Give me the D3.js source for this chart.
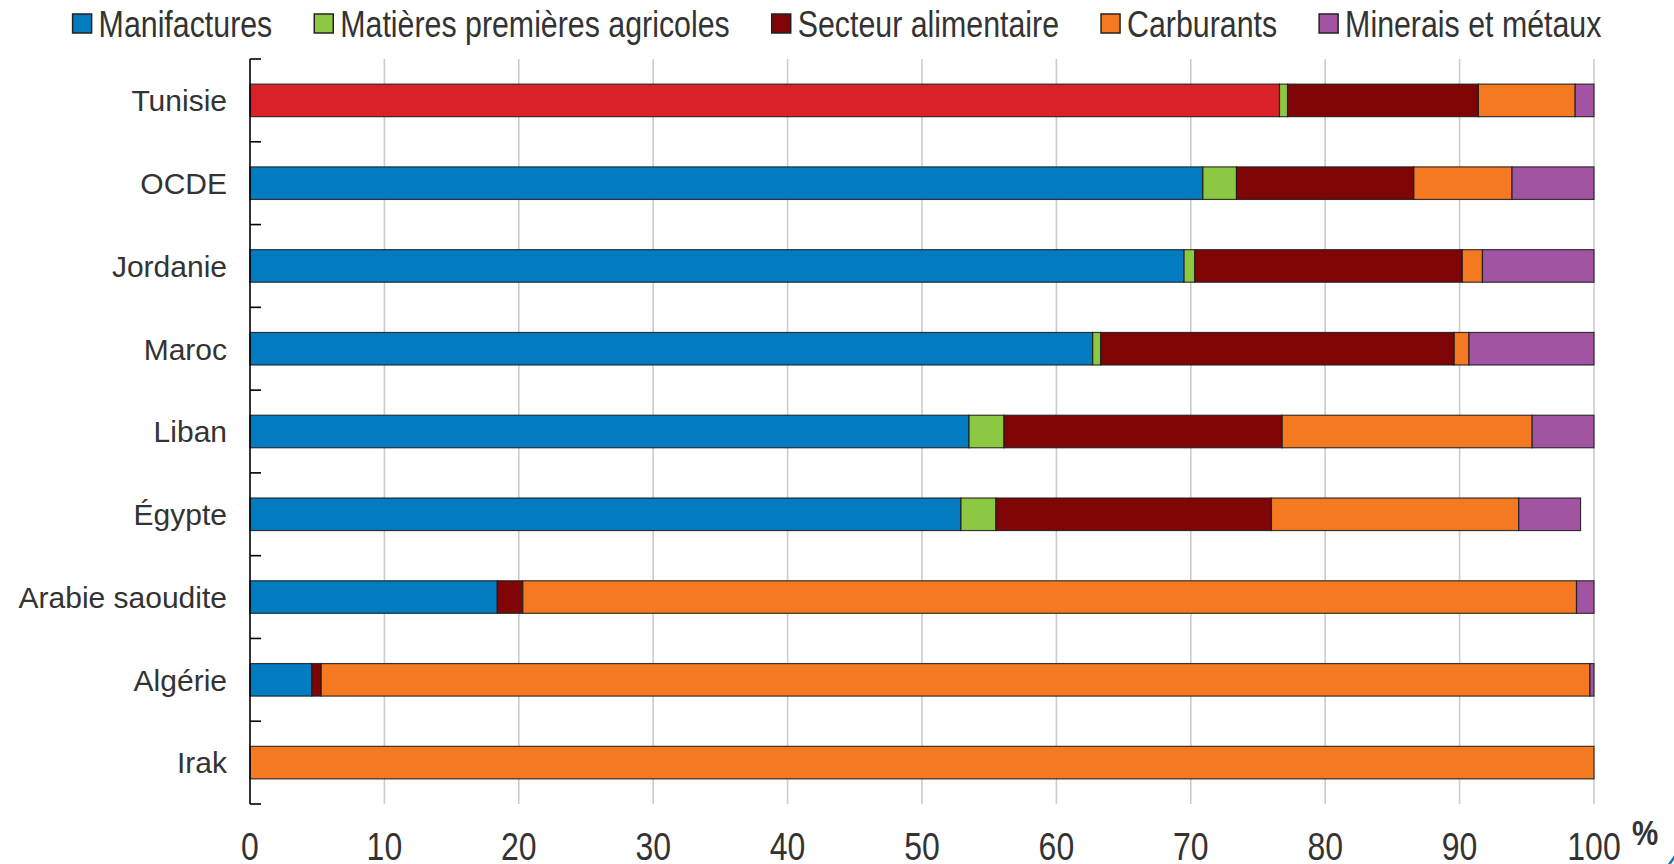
<!DOCTYPE html>
<html>
<head>
<meta charset="utf-8">
<script src="https://cdn.jsdelivr.net/npm/d3@7"></script>
<style>
  body { margin: 0; background: #fff; }
  svg { display: block; }
</style>
</head>
<body>
<div id="chart"></div>
<script>
/* Exportations par catégorie de produits, part du total (%) */

const countries = ["Tunisie", "OCDE", "Jordanie", "Maroc", "Liban", "Égypte", "Arabie saoudite", "Algérie", "Irak"];

const manifactures = [76.6, 70.9, 69.5, 62.7, 53.5, 52.9, 18.4, 4.6, 0];
const agricoles    = [0.6, 2.5, 0.8, 0.6, 2.6, 2.6, 0, 0, 0];
const alimentaire  = [14.2, 13.2, 19.9, 26.3, 20.7, 20.5, 1.9, 0.7, 0];
const carburants   = [7.2, 7.3, 1.5, 1.1, 18.6, 18.4, 78.4, 94.4, 100];
const minerais     = [1.4, 6.1, 8.3, 9.3, 4.6, 4.6, 1.3, 0.3, 0];

const seriesNames = ["Manifactures", "Matières premières agricoles", "Secteur alimentaire", "Carburants", "Minerais et métaux"];
const seriesColors = ["#037bc1", "#8cc841", "#7f0506", "#f47920", "#a154a1"];
const highlight = "Tunisie", highlightColor = "#da2128";

const xTicks = [0, 10, 20, 30, 40, 50, 60, 70, 80, 90, 100];

const width = 1674, height = 864,
    margin = ({top: 59, right: 80, bottom: 60, left: 250});

const font = "'Liberation Sans', Arial, sans-serif",
    narrow = 0.82;            // squeeze to look like Arial Narrow

const data = countries.map((c, i) => ({
    country: c,
    "Manifactures": manifactures[i],
    "Matières premières agricoles": agricoles[i],
    "Secteur alimentaire": alimentaire[i],
    "Carburants": carburants[i],
    "Minerais et métaux": minerais[i]
}));

const stacked = d3.stack().keys(seriesNames)(data);

let svg = d3.select("#chart")
    .append("svg")
    .attr("width", width)
    .attr("height", height);

let x = d3.scaleLinear()
    .domain([0, 100])
    .range([margin.left, width - margin.right]);   // 250 -> 1594

let y = d3.scaleBand()
    .domain(countries)
    .range([margin.top, height - margin.bottom]);   // 59 -> 804

const barH = y.bandwidth() * 0.393,
    barOff = (y.bandwidth() - barH) / 2;

// vertical gridlines
svg.append("g")
    .selectAll("line")
    .data(xTicks.slice(1))
    .join("line")
    .attr("x1", d => x(d)).attr("x2", d => x(d))
    .attr("y1", y.range()[0]).attr("y2", y.range()[1])
    .attr("stroke", "#cccccc")
    .attr("stroke-width", 1.6);

// bars
svg.append("g")
    .selectAll("g")
    .data(stacked)
    .join("g")
    .attr("fill", (s, i) => seriesColors[i])
    .selectAll("rect")
    .data(s => s.map(d => Object.assign(d, {key: s.key})))
    .join("rect")
    .filter(d => d[1] - d[0] > 0)
    .attr("x", d => x(d[0]))
    .attr("width", d => x(d[1]) - x(d[0]))
    .attr("y", d => y(d.data.country) + barOff)
    .attr("height", barH)
    .attr("fill", d => (d.data.country === highlight && d.key === "Manifactures") ? highlightColor : null)
    .attr("stroke", "#1a1a1a")
    .attr("stroke-opacity", 0.85)
    .attr("stroke-width", 1.2);

// y axis: line + inward ticks at band boundaries
const yAxis = svg.append("g");
yAxis.append("line")
    .attr("x1", x(0)).attr("x2", x(0))
    .attr("y1", y.range()[0]).attr("y2", y.range()[1])
    .attr("stroke", "#000").attr("stroke-width", 1.6);
yAxis.selectAll(".tick")
    .data(countries.map(c => y(c)).concat([y.range()[1]]))
    .join("line")
    .attr("x1", x(0)).attr("x2", x(0) + 11)
    .attr("y1", d => d).attr("y2", d => d)
    .attr("stroke", "#000").attr("stroke-width", 1.6);
yAxis.selectAll("text")
    .data(countries)
    .join("text")
    .attr("x", x(0) - 23)
    .attr("y", d => y(d) + y.bandwidth() / 2)
    .attr("dy", "0.36em")
    .attr("text-anchor", "end")
    .attr("font-family", font)
    .attr("font-size", 30)
    .attr("fill", "#333")
    .text(d => d);

// x tick labels (tall, narrow)
svg.append("g")
    .selectAll("text")
    .data(xTicks)
    .join("text")
    .attr("transform", d => `translate(${x(d)},860) scale(${narrow},1)`)
    .attr("text-anchor", "middle")
    .attr("font-family", font)
    .attr("font-size", 39)
    .attr("fill", "#333")
    .text(d => d);

svg.append("text")
    .attr("transform", `translate(1645,845) scale(${narrow},1)`)
    .attr("text-anchor", "middle")
    .attr("font-family", font)
    .attr("font-weight", "bold")
    .attr("font-size", 36)
    .attr("fill", "#333")
    .text("%");

// corner mark
svg.append("path")
    .attr("d", "M1668,866 L1676,855")
    .attr("stroke", "#1f6fb5")
    .attr("stroke-width", 2.5);

// legend, centred
const legend = svg.append("g");
let items = legend.selectAll("g")
    .data(seriesNames)
    .join("g");
items.append("rect")
    .attr("width", 19).attr("height", 19)
    .attr("y", 14)
    .attr("fill", (d, i) => seriesColors[i])
    .attr("stroke", "#222").attr("stroke-width", 1.5);
items.append("text")
    .attr("transform", `translate(26,23.5) scale(${narrow},1)`)
    .attr("dy", "0.36em")
    .attr("font-family", font)
    .attr("font-size", 37)
    .attr("fill", "#333")
    .text(d => d);

let pos = 0, offsets = [];
items.each(function() {
    offsets.push(pos);
    pos += 26 + this.querySelector("text").getComputedTextLength() * narrow + 42;
});
const total = pos - 42;
items.attr("transform", (d, i) => `translate(${width / 2 - total / 2 + offsets[i]},0)`);
</script>
</body>
</html>
